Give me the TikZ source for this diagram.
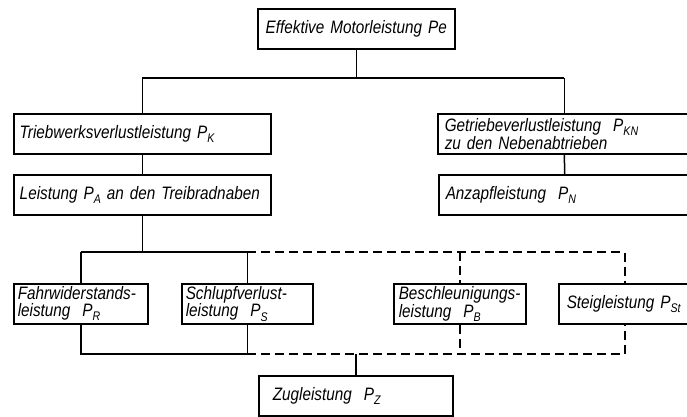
\documentclass[tikz,border=0pt]{standalone}
\usepackage{fontspec}
\newfontfamily\dinfont[FakeStretch=0.85]{Liberation Sans}
\newcommand{\sbx}[1]{\raisebox{-0.45ex}{\fontsize{12.5}{12.5}\selectfont #1}}
\begin{document}
\begin{tikzpicture}[x=1pt,y=-1pt,
  bx/.style={draw, line width=1.5pt, anchor=north west, inner xsep=5pt, inner ysep=0pt,
    minimum height=40pt, align=left, font=\dinfont\itshape\fontsize{18}{16.5}\selectfont},
  ln/.style={line width=1.5pt},
  dln/.style={line width=1.5pt, dash pattern=on 9pt off 5pt}]
\useasboundingbox (0,0) rectangle (687,416);
\node[bx, align=center, text width=187pt] (top) at (257,8) {Effektive Motorleistung Pe};
\node[bx, inner xsep=6pt, text width=245pt] (TK) at (13,113) {Triebwerksverlustleistung P\sbx{K}};
\node[bx, inner xsep=6pt, text width=245pt] (PA) at (13,174) {Leistung P\sbx{A} an den Treibradnaben};
\node[bx, inner xsep=7pt, text width=239pt] (KN) at (437,113) {Getriebeverlustleistung\ \ P\sbx{KN}\\zu den Nebenabtrieben};
\node[bx, inner xsep=7pt, text width=238pt] (PN) at (438,174) {Anzapfleistung\ \ P\sbx{N}};
\node[bx, inner xsep=4pt, text width=126pt] (PR) at (13,283) {Fahrwiderstands-\\leistung\ \ P\sbx{R}};
\node[bx, inner xsep=4pt, text width=123pt] (PS) at (181,283) {Schlupfverlust-\\leistung\ \ P\sbx{S}};
\node[bx, inner xsep=5pt, text width=122pt] (PB) at (393,283) {Beschleunigungs-\\leistung\ \ P\sbx{B}};
\node[bx, inner xsep=8pt, text width=116pt] (PSt) at (558,283) {Steigleistung P\sbx{St}};
\node[bx, inner xsep=14pt, text width=166pt] (PZ) at (258,375) {Zugleistung\ \ P\sbx{Z}};
% top tree
\coordinate (j1) at (353,78);
\draw[ln] (top.south) -- (top.south |- j1);
\draw[ln] (TK.north |- j1) -- (KN.north |- j1);
\draw[ln] (TK.north |- j1) -- (TK.north);
\draw[ln] (KN.north |- j1) -- (KN.north);
\draw[ln] (TK) -- (PA);
\draw[ln] (KN) -- (PN);
% upper distribution line
\coordinate (j2) at (0,252);
\draw[ln] (PA.south) -- (PA.south |- j2);
\draw[ln] (PR.north |- j2) -- (PS.north |- j2);
\draw[ln] (PR.north |- j2) -- (PR.north);
\draw[ln] (PS.north |- j2) -- (PS.north);
\draw[dln] (PS.north |- j2) -- (PSt.north |- j2) -- (PSt.north);
\draw[dln] (PB.north |- j2) -- (PB.north);
% lower collection line
\coordinate (j3) at (0,354);
\draw[ln] (PR.south) -- (PR.south |- j3) -- (PS.south |- j3) -- (PS.south);
\draw[dln] (PS.south |- j3) -- (PSt.south |- j3) -- (PSt.south);
\draw[dln] (PB.south) -- (PB.south |- j3);
\draw[ln] (PZ.north |- j3) -- (PZ.north);
\end{tikzpicture}
\end{document}
